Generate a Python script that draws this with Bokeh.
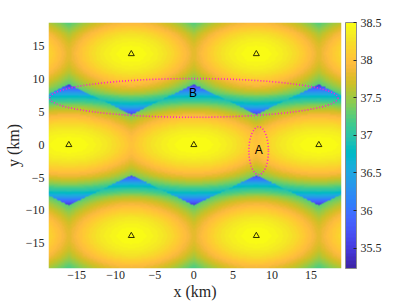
import numpy as np
from bokeh.plotting import figure
from bokeh.models import (LinearColorMapper, ColorBar, FixedTicker,
                          CustomJSTickFormatter, Label)
from bokeh.core.properties import value
from bokeh.embed import file_html
from bokeh.resources import INLINE

# ---------------- data ----------------
# beam centres (km); the ones at x = +-24 lie just outside the view
beam_x = [-16.0, 0.0, 16.0, -24.0, -8.0, 8.0, 24.0, -24.0, -8.0, 8.0, 24.0]
beam_y = [0.0, 0.0, 0.0, 13.86, 13.86, 13.86, 13.86, -13.86, -13.86, -13.86, -13.86]
beam_row = ["centre", "centre", "centre", "outer", "outer", "outer", "outer",
            "outer", "outer", "outer", "outer"]

# gain (dB) of a beam along its horizontal / vertical axis, vs offset (km)
profile_offset_km = [0, 1, 2, 3, 4, 5, 6, 7, 8, 9, 10, 11]
centre_gain_x = [38.50, 38.49, 38.47, 38.43, 38.37, 38.30, 38.21, 38.11, 38.00, 37.88, 37.74, 37.58]
centre_gain_y = [38.50, 38.47, 38.38, 38.23, 38.03, 37.78, 37.44, 36.97, 36.36, 35.58, 35.00, 34.60]
outer_gain_x = [38.50, 38.49, 38.45, 38.39, 38.31, 38.21, 38.09, 37.95, 37.80, 37.62, 37.42, 37.20]
outer_gain_y = [38.50, 38.47, 38.39, 38.26, 38.08, 37.86, 37.56, 37.12, 36.52, 35.72, 35.10, 34.70]
peak_gain_db = 38.5

# triangles (beam centres inside the view)
marker_x = [-8.0, 8.0, -16.0, 0.0, 16.0, -8.0, 8.0]
marker_y = [13.86, 13.86, 0.0, 0.0, 0.0, -13.86, -13.86]

# dotted regions and their letters
region_text = ["A", "B"]
region_text_x = [8.3, -0.1]
region_text_y = [-0.75, 7.85]
ellipse_x = [8.3, 0.0]
ellipse_y = [-0.9, 7.15]
ellipse_w = [2.5, 36.9]
ellipse_h = [7.3, 5.9]

x_ticks = [-15, -10, -5, 0, 5, 10, 15]
y_ticks = [-15, -10, -5, 0, 5, 10, 15]
cbar_ticks = [35.5, 36.0, 36.5, 37.0, 37.5, 38.0, 38.5]
cbar_low, cbar_high = 35.23, 38.5
x_lim = (-18.6, 18.9)
y_lim = (-18.85, 18.65)

# ---------------- parula colour map ----------------
parula_rgb = [
    (0.2422, 0.1504, 0.6603), (0.2504, 0.1650, 0.7076), (0.2578, 0.1818, 0.7511), (0.2647, 0.1978, 0.7952),
    (0.2706, 0.2147, 0.8364), (0.2751, 0.2342, 0.8710), (0.2783, 0.2559, 0.8991), (0.2803, 0.2782, 0.9221),
    (0.2813, 0.3006, 0.9414), (0.2810, 0.3228, 0.9579), (0.2795, 0.3447, 0.9717), (0.2760, 0.3667, 0.9829),
    (0.2699, 0.3892, 0.9906), (0.2602, 0.4123, 0.9952), (0.2440, 0.4358, 0.9988), (0.2206, 0.4603, 0.9973),
    (0.1963, 0.4847, 0.9892), (0.1834, 0.5074, 0.9798), (0.1786, 0.5289, 0.9682), (0.1764, 0.5499, 0.9520),
    (0.1687, 0.5703, 0.9359), (0.1540, 0.5902, 0.9218), (0.1460, 0.6091, 0.9079), (0.1380, 0.6276, 0.8973),
    (0.1248, 0.6459, 0.8883), (0.1113, 0.6635, 0.8763), (0.0952, 0.6798, 0.8598), (0.0689, 0.6948, 0.8394),
    (0.0297, 0.7082, 0.8163), (0.0036, 0.7203, 0.7917), (0.0067, 0.7312, 0.7660), (0.0433, 0.7411, 0.7394),
    (0.0964, 0.7500, 0.7120), (0.1408, 0.7584, 0.6842), (0.1717, 0.7670, 0.6554), (0.1938, 0.7758, 0.6251),
    (0.2161, 0.7843, 0.5923), (0.2470, 0.7918, 0.5567), (0.2906, 0.7973, 0.5188), (0.3406, 0.8008, 0.4789),
    (0.3909, 0.8029, 0.4354), (0.4456, 0.8024, 0.3909), (0.5044, 0.7993, 0.3480), (0.5616, 0.7942, 0.3045),
    (0.6174, 0.7876, 0.2612), (0.6720, 0.7793, 0.2227), (0.7242, 0.7698, 0.1910), (0.7738, 0.7598, 0.1646),
    (0.8203, 0.7498, 0.1535), (0.8634, 0.7406, 0.1596), (0.9035, 0.7330, 0.1774), (0.9393, 0.7288, 0.2100),
    (0.9728, 0.7298, 0.2394), (0.9956, 0.7434, 0.2371), (0.9970, 0.7659, 0.2199), (0.9952, 0.7893, 0.2028),
    (0.9892, 0.8136, 0.1885), (0.9786, 0.8386, 0.1766), (0.9676, 0.8639, 0.1643), (0.9610, 0.8890, 0.1537),
    (0.9597, 0.9135, 0.1423), (0.9628, 0.9373, 0.1265), (0.9691, 0.9606, 0.1064), (0.9769, 0.9839, 0.0805)]
parula = ["#%02x%02x%02x" % tuple(int(round(c * 255)) for c in rgb) for rgb in parula_rgb]

# ---------------- gain map: serving (nearest) beam, read profiles ----------------
n = 375
sx = (x_lim[1] - x_lim[0]) / n
sy = (y_lim[1] - y_lim[0]) / n
cx = x_lim[0] + sx * (np.arange(n) + 0.5)
cy = y_lim[0] + sy * (np.arange(n) + 0.5)
X, Y = np.meshgrid(cx, cy)
bx = np.array(beam_x)
by = np.array(beam_y)
outer = np.array([r == "outer" for r in beam_row])
d2 = (X[..., None] - bx) ** 2 + (Y[..., None] - by) ** 2
k = np.argmin(d2, axis=-1)
dx = np.abs(X - bx[k])
dy = np.abs(Y - by[k])
gx = np.where(outer[k], np.interp(dx, profile_offset_km, outer_gain_x),
              np.interp(dx, profile_offset_km, centre_gain_x))
gy = np.where(outer[k], np.interp(dy, profile_offset_km, outer_gain_y),
              np.interp(dy, profile_offset_km, centre_gain_y))
gain = gx + gy - peak_gain_db

# ---------------- figure ----------------
FONT = "Liberation Serif"
TXT = "#262626"

p = figure(width=407, height=305, x_range=x_lim, y_range=y_lim,
           output_backend="svg", toolbar_location=None,
           min_border_left=48, min_border_right=66, min_border_top=22, min_border_bottom=37)
p.background_fill_color = "white"
p.border_fill_color = "white"
p.outline_line_color = None
p.grid.visible = False

mapper = LinearColorMapper(palette=parula, low=cbar_low, high=cbar_high)
p.image(image=[gain], x=x_lim[0], y=y_lim[0], dw=x_lim[1] - x_lim[0],
        dh=y_lim[1] - y_lim[0], color_mapper=mapper)

p.scatter(x=marker_x, y=marker_y, marker="triangle", size=6, fill_alpha=0,
          line_color="#1a1a00", line_width=0.9)

p.ellipse(x=ellipse_x, y=ellipse_y, width=ellipse_w, height=ellipse_h,
          fill_alpha=0, line_color="#ff1fcf", line_width=1.6, line_dash="1 2")

p.text(x=region_text_x, y=region_text_y, text=region_text,
       text_font=value("Liberation Sans"), text_font_size="12px",
       text_color="#000000", text_align="center", text_baseline="middle")

for ax, ticks, lab in ((p.xaxis, x_ticks, "x (km)"), (p.yaxis, y_ticks, "y (km)")):
    ax.ticker = FixedTicker(ticks=ticks)
    ax.axis_line_color = None
    ax.major_tick_line_color = None
    ax.minor_tick_line_color = None
    ax.major_tick_out = 0
    ax.major_tick_in = 0
    ax.minor_tick_out = 0
    ax.major_label_text_font = FONT
    ax.major_label_text_font_size = "12px"
    ax.major_label_text_color = TXT
    ax.axis_label = lab
    ax.axis_label_text_font = FONT
    ax.axis_label_text_font_style = "normal"
    ax.axis_label_text_font_size = "16px"
    ax.axis_label_text_color = TXT
p.xaxis.major_label_standoff = 2
p.xaxis.axis_label_standoff = 1
p.yaxis.major_label_standoff = 4
p.yaxis.axis_label_standoff = 1

cb = ColorBar(color_mapper=mapper, ticker=FixedTicker(ticks=cbar_ticks),
              formatter=CustomJSTickFormatter(code="return tick.toString()"),
              width=11, padding=0, margin=0, label_standoff=4,
              location=(4, 0),
              major_label_text_font=FONT, major_label_text_font_size="12px",
              major_label_text_color=TXT,
              major_tick_line_color=TXT, major_tick_in=3, major_tick_out=0,
              minor_tick_line_color=None,
              bar_line_color="#8c8c8c", border_line_color=None,
              background_fill_color=None)
p.add_layout(cb, "right")

cb_label = Label(x=341, y=124, x_units="screen", y_units="screen",
                 text="Antenna gain (dB)", angle=np.pi / 2,
                 text_font=FONT, text_font_size="13px", text_color=TXT,
                 text_align="center", text_baseline="middle")
p.add_layout(cb_label)

open("out.html", "w").write(file_html(p, INLINE))
